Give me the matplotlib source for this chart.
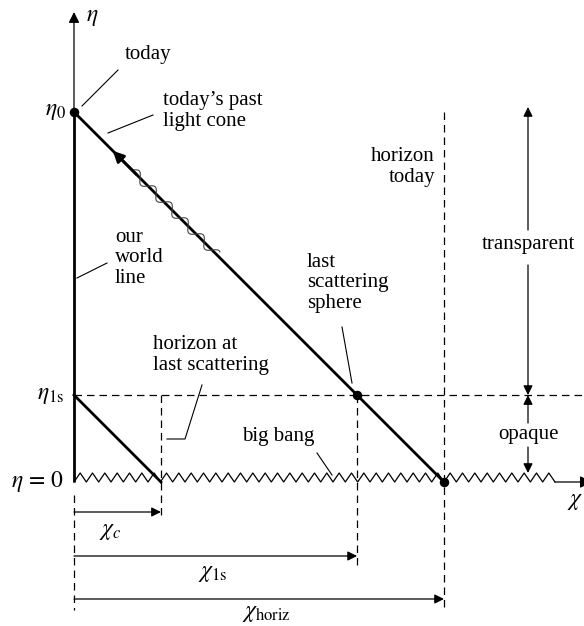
import numpy as np
import matplotlib.pyplot as plt

plt.rcParams['font.family'] = ['Liberation Serif', 'DejaVu Serif']
plt.rcParams['mathtext.fontset'] = 'stix'

# conformal times (units of eta_0) and the comoving distances that follow
eta_0 = 1.0
eta_ls = 0.235
chi_c = eta_ls
chi_ls = eta_0 - eta_ls
chi_horiz = eta_0

dots_chi = [0.0, chi_ls, chi_horiz]
dots_eta = [eta_0, eta_ls, 0.0]

ruler_ends = [chi_c, chi_ls, chi_horiz]
ruler_labels = [r'$\chi_c$', r'$\chi_{\mathrm{1s}}$', r'$\chi_{\mathrm{horiz}}$']
tick_labels = [r'$\eta_0$', r'$\eta_{\mathrm{1s}}$', r'$\eta\,=\,0$']
tick_values = [eta_0, eta_ls, 0.0]

S = 370.0  # pixels per unit


def P(xp, yp):
    # pixel position in the picture -> data coords
    return ((xp - 74) / S, (482 - yp) / S)


fig = plt.figure(figsize=(5.84, 6.26), dpi=100)
ax = fig.add_axes([0, 0, 1, 1])
ax.set_xlim(-74 / S, 510 / S)
ax.set_ylim(-144 / S, 482 / S)
ax.axis('off')

K = 'black'
thick = 2.0
thin = 0.9
dash = (0, (6, 4))
fs = 15
mfs = 17

# eta axis and our world line
ax.plot([0, 0], [0, eta_0], color=K, lw=thick, solid_capstyle='butt')
ax.annotate('', xy=P(74, 12), xytext=(0, eta_0),
            arrowprops=dict(arrowstyle='-|>', color=K, lw=thin, mutation_scale=16,
                            shrinkA=0, shrinkB=0))
ax.text(*P(86, 18), r'$\eta$', fontsize=mfs, va='center', ha='left')

# big bang zigzag along eta = 0 and chi axis
per = chi_horiz / 30
xz = np.arange(0, 1.30 + 1e-9, per / 2)
yz = np.where(np.arange(len(xz)) % 2 == 0, 0.0, 9 / S)
ax.plot(xz, yz, color=K, lw=thin)
ax.annotate('', xy=P(592, 482), xytext=(xz[-1], 0),
            arrowprops=dict(arrowstyle='-|>', color=K, lw=thin, mutation_scale=18,
                            shrinkA=0, shrinkB=0), annotation_clip=False)
ax.text(*P(583, 501), r'$\chi$', fontsize=mfs, va='center', ha='right')

# past light cones
ax.plot([0, chi_horiz], [eta_0, 0], color=K, lw=thick)
ax.plot([0, chi_c], [eta_ls, 0], color=K, lw=thick)
s_tip, s_tail = 0.105, 0.17
ax.annotate('', xy=(s_tip, eta_0 - s_tip), xytext=(s_tail, eta_0 - s_tail),
            arrowprops=dict(arrowstyle='-|>', color=K, lw=thick, mutation_scale=16,
                            shrinkA=0, shrinkB=0))

# photon wiggle along the light cone
s = np.linspace(0.157, 0.386, 300)
w = (4.5 / S) * np.sin(2 * np.pi * (s - s[0]) / (s[-1] - s[0]) * 5.3)
ax.plot(s + w / np.sqrt(2), eta_0 - s + w / np.sqrt(2), color='#444444', lw=0.8)

ax.scatter(dots_chi, dots_eta, s=34, color=K, zorder=5)

# dashed guides
ax.plot([0, 510 / S], [eta_ls, eta_ls], color=K, lw=thin, ls=dash)
ax.plot([chi_c, chi_c], [eta_ls, P(0, 520)[1]], color=K, lw=thin, ls=dash)
ax.plot([chi_ls, chi_ls], [eta_ls, P(0, 565)[1]], color=K, lw=thin, ls=dash)
ax.plot([chi_horiz, chi_horiz], [eta_0, P(0, 608)[1]], color=K, lw=thin, ls=dash)
ax.plot([0, 0], [P(0, 495)[1], P(0, 610)[1]], color=K, lw=thin, ls=dash)

# rulers under the axis
for end, yp, lab, lp in zip(ruler_ends, [512, 556, 599], ruler_labels,
                            [(110, 532), (213, 574), (266, 614)]):
    y = P(0, yp)[1]
    ax.annotate('', xy=(end, y), xytext=(0, y),
                arrowprops=dict(arrowstyle='-|>', color=K, lw=thin, mutation_scale=14,
                                shrinkA=0, shrinkB=0))
    ax.text(*P(*lp), lab, fontsize=mfs, ha='center', va='center')

# eta tick labels
for val, lab, xp in zip(tick_values, tick_labels, [66, 64, 64]):
    ax.text(P(xp, 0)[0], val, lab, fontsize=mfs, ha='right', va='center')

# transparent / opaque arrows
xr = P(528, 0)[0]
arr = dict(arrowstyle='-|>', color=K, lw=thin, mutation_scale=14, shrinkA=0, shrinkB=0)
ax.annotate('', xy=(xr, P(0, 107)[1]), xytext=(xr, P(0, 230)[1]), arrowprops=arr)
ax.annotate('', xy=(xr, eta_ls), xytext=(xr, P(0, 265)[1]), arrowprops=arr)
ax.annotate('', xy=(xr, eta_ls), xytext=(xr, P(0, 423)[1]), arrowprops=arr)
ax.annotate('', xy=(xr, 9 / S), xytext=(xr, P(0, 447)[1]), arrowprops=arr)
ax.text(xr, P(0, 245)[1], 'transparent', fontsize=fs, ha='center', va='center')
ax.text(xr, P(0, 435)[1], 'opaque', fontsize=fs, ha='center', va='center')

# labels with leader lines
leaders = [
    [(82, 106), (118, 70)],
    [(108, 133), (153, 115)],
    [(77, 278), (107, 263)],
    [(167, 439), (185, 439), (202, 385)],
    [(317, 453), (332, 475)],
    [(342, 327), (352, 383)],
]
for pts in leaders:
    xy = np.array([P(*p) for p in pts])
    ax.plot(xy[:, 0], xy[:, 1], color=K, lw=0.8)

ax.text(*P(125, 55), 'today', fontsize=fs, ha='left', va='center')
ax.text(*P(163, 111), "today\u2019s past\nlight cone", fontsize=fs, ha='left',
        va='center', linespacing=1.1)
ax.text(*P(115, 258), 'our\nworld\nline', fontsize=fs, ha='left', va='center',
        linespacing=1.1)
ax.text(*P(153, 355), 'horizon at\nlast scattering', fontsize=fs, ha='left',
        va='center', linespacing=1.1)
ax.text(*P(242, 437), 'big bang', fontsize=fs, ha='left', va='center')
ax.text(*P(307, 283), 'last\nscattering\nsphere', fontsize=fs, ha='left',
        va='center', linespacing=1.1)
ax.text(*P(435, 167), 'horizon\ntoday', fontsize=fs, ha='right', va='center',
        linespacing=1.1)

fig.savefig('out.png', dpi=100)
